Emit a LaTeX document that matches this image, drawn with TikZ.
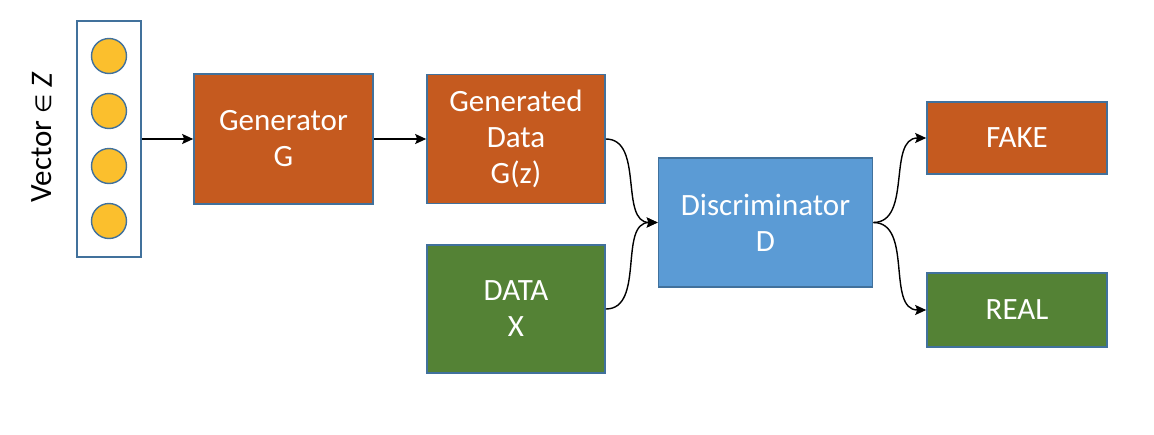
\documentclass[tikz,border=0pt]{standalone}
\usepackage{fontspec}
\setmainfont{Carlito}
\newfontfamily\symfont{DejaVu Sans}
\usetikzlibrary{arrows.meta}
\definecolor{boxorange}{HTML}{C55A1F}
\definecolor{boxgreen}{HTML}{548235}
\definecolor{boxblue}{HTML}{5B9BD5}
\definecolor{edgeblue}{HTML}{41719C}
\definecolor{dotyellow}{HTML}{FBBF2D}
\tikzset{
  blk/.style={draw=edgeblue, line width=1.6pt, text=white, align=center, inner sep=0pt,
    font=\fontsize{31}{36}\selectfont},
  dot/.style={circle, draw=edgeblue, line width=1.4pt, fill=dotyellow, minimum size=35pt, inner sep=0pt},
  conn/.style={line width=1.4pt, -{Stealth[length=11pt,width=10pt,inset=2pt]}}
}
\begin{document}
\begin{tikzpicture}[x=1pt,y=-1pt]
\useasboundingbox (0,0) rectangle (1154,434);
% vector box
\node[draw=edgeblue, line width=1.6pt, minimum width=64pt, minimum height=236pt, inner sep=0pt] (vec) at (109,139) {};
\node[dot] (c1) at (109,56) {};
\node[dot] (c2) at (109,111) {};
\node[dot] (c3) at (109,166) {};
\node[dot] (c4) at (109,221) {};
\node[rotate=90, font=\fontsize{31}{36}\selectfont] (vlabel) at (42,137) {Vector {\symfont\fontsize{22}{26}\selectfont ∈} \textit{Z}};
% boxes
\node[blk, fill=boxorange, minimum width=179pt, minimum height=130pt] (gen) at (283.5,139) {Generator\\G};
\node[blk, fill=boxorange, minimum width=178pt, minimum height=129pt] (gd) at (516,139) {Generated\\Data\\G(z)};
\node[blk, fill=boxgreen, minimum width=178pt, minimum height=128pt] (data) at (516,309) {DATA\\X};
\node[blk, fill=boxblue, minimum width=214pt, minimum height=129pt] (disc) at (765.5,222.5) {Discriminator\\D};
\node[blk, fill=boxorange, minimum width=180pt, minimum height=72pt] (fake) at (1017,138) {FAKE};
\node[blk, fill=boxgreen, minimum width=180pt, minimum height=74pt] (real) at (1017,310) {REAL};
% connectors
\draw[conn] (vec.east) -- (gen.west);
\draw[conn] (gen.east) -- (gd.west);
\draw[conn] (gd.east) to[out=0,in=180] (disc.west);
\draw[conn] (data.east) to[out=0,in=180] (disc.west);
\draw[conn] (disc.east) to[out=0,in=180] (fake.west);
\draw[conn] (disc.east) to[out=0,in=180] (real.west);
\end{tikzpicture}
\end{document}
